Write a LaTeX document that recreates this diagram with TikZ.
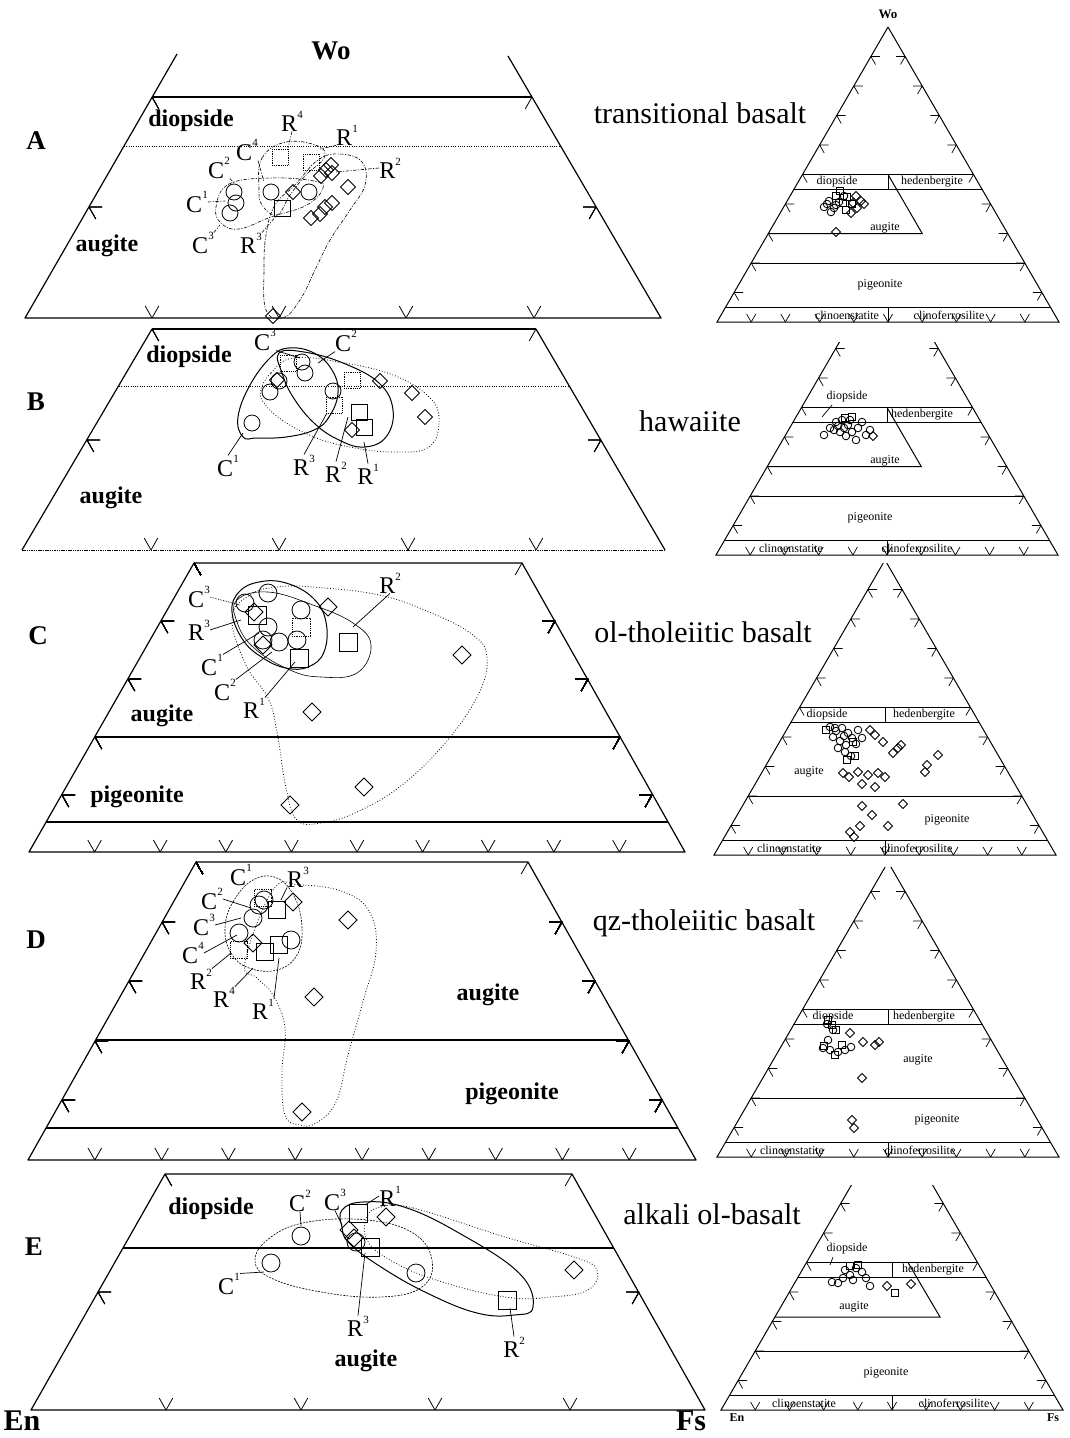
\documentclass[tikz,border=0pt]{standalone}
\usepackage{fontspec}
\setmainfont{Liberation Serif}
\usetikzlibrary{calc}

% superscript digit of a sample label
\newcommand\upn[1]{\raisebox{0.55em}{\fontsize{11}{11}\selectfont #1}}

% plotted symbols: [style]{size}{x/y list}
\newcommand\circs[3][]{\foreach \x/\y in {#3} \draw[sym,#1] (\x,\y) circle[radius=#2];}
\newcommand\sqs[3][]{\foreach \x/\y in {#3} \draw[sym,#1] (\x-#2,\y-#2) rectangle (\x+#2,\y+#2);}
\newcommand\dias[3][]{\foreach \x/\y in {#3} \draw[sym,#1] (\x,\y-#2) -- (\x+#2,\y) -- (\x,\y+#2) -- (\x-#2,\y) -- cycle;}

% grid ticks of the enlarged quadrilaterals
\newcommand\tkB[2]{\draw[tk] (#1,#2) -- ++(6.8,-12) (#1,#2) -- ++(-6.8,-12);}
\newcommand\tkL[2]{\draw[tk] (#1,#2) -- ++(13,0) (#1,#2) -- ++(6.8,12);}
\newcommand\tkR[2]{\draw[tk] (#1,#2) -- ++(-13,0) (#1,#2) -- ++(-6.8,12);}

% small Wo-En-Fs triangle: {x}{y} of En corner, {height of drawn sides}, {number of side ticks}
\newcommand\tribox[4]{%
  \begin{scope}[shift={(#1,#2)}]
    \draw[tln] ({0.5797*#3},-#3) -- (0,0) -- (342,0) -- ({342-0.5797*#3},-#3);
    \draw[tln] (85.5,-147.5) -- (256.5,-147.5);
    \draw[tln,line width=1.5pt] (77,-132.75) -- (265,-132.75);
    \draw[tln] (171,-147.5) -- (171,-132.75);
    \draw[tln] (34.2,-59) -- (307.8,-59);
    \draw[tln] (8.55,-14.75) -- (333.45,-14.75);
    \draw[tln] (171,-14.75) -- (171,0);
    \foreach \k in {1,...,9}
      \draw[ttk] ({34.2*\k},0) -- ++(4.6,-8) ({34.2*\k},0) -- ++(-4.6,-8);
    \foreach \k in {1,...,#4} {
      \draw[ttk] ({17.1*\k},{-29.5*\k}) -- ++(9,0) ({17.1*\k},{-29.5*\k}) -- ++(4.6,8);
      \draw[ttk] ({342-17.1*\k},{-29.5*\k}) -- ++(-9,0) ({342-17.1*\k},{-29.5*\k}) -- ++(-4.6,8);
    }
  \end{scope}}

\tikzset{
  ln/.style={line width=1.2pt, line join=round},
  tk/.style={line width=0.8pt},
  dotl/.style={line width=0.9pt, dash pattern=on 0.9pt off 1.4pt},
  sym/.style={line width=0.8pt},
  lead/.style={line width=0.7pt},
  ddash/.style={line width=0.6pt, dash pattern=on 3.5pt off 1.5pt on 1pt off 1.5pt},
  esol/.style={line width=1pt},
  ethin/.style={line width=0.6pt},
  edash/.style={line width=0.6pt, dash pattern=on 2pt off 1.2pt},
  edot/.style={line width=0.8pt, dash pattern=on 0.8pt off 2pt},
  lbl/.style={font=\fontsize{24}{24}\selectfont, inner sep=0pt},
  fld/.style={font=\fontsize{24}{24}\selectfont\bfseries, inner sep=0pt},
  pan/.style={font=\fontsize{27}{27}\selectfont\bfseries, inner sep=0pt},
  ttl/.style={font=\fontsize{30}{30}\selectfont, inner sep=0pt},
  trt/.style={font=\fontsize{12}{12}\selectfont, inner sep=0pt},
  tln/.style={line width=1pt},
  ttk/.style={line width=0.7pt},
  tsym/.style={line width=0.85pt},
}

\begin{document}
\begin{tikzpicture}[x=1pt,y=-1pt]
\useasboundingbox (0,0) rectangle (1070,1438);
\fill[white] (0,0) rectangle (1070,1438);

% ================= panel A : transitional basalt =================
\draw[ln] (177,54) -- (25,318) -- (661,318) -- (508,56);
\draw[ln] (152,97) -- (532,97);
\draw[dotl] (124,146) -- (561,146);
\foreach \x in {152,279,406,534} \tkB{\x}{318}
\tkL{89}{207} \tkR{596}{207}
\draw[tk] (152,97) -- ++(6.8,12);
\draw[tk] (532,97) -- ++(-6.8,12);

\node[pan] (wo) at (331,51) {Wo};
\node[pan] (pA) at (36,141) {A};
\node[fld] (aDi) at (191,121) {diopside};
\node[fld] (aAu) at (107,246) {augite};

\draw[ddash] plot[smooth cycle, tension=0.7] coordinates {(216,207) (229,184) (271,178) (314,181) (323,188) (307,205) (271,217) (239,229) (221,223)};
\draw[ddash] plot[smooth cycle, tension=0.7] coordinates {(259,188) (262,158) (286,142) (318,146) (324,158) (306,175) (290,195) (277,215) (262,205)};
\draw[ddash] plot[smooth cycle, tension=0.7] coordinates {(318,160) (340,154) (362,162) (365,185) (350,210) (330,240) (315,270) (300,300) (283,318) (266,310) (264,270) (266,235) (275,205) (295,185)};

\circs{8}{234/192, 236/203, 230/213, 271/192, 309/192}
\sqs[densely dotted]{8}{280/157, 311/162}
\sqs{8}{282/208}
\dias{7.5}{293/192, 321/176, 326/170, 331/165, 332/173, 348/187, 311/218, 320/214, 325/207, 332/203, 273/316}

\node[lbl] (aR4) at (292,121) {R\upn{4}};
\node[lbl] (aR1) at (347,135) {R\upn{1}};
\node[lbl] (aC4) at (247,150) {C\upn{4}};
\node[lbl] (aR2) at (390,168) {R\upn{2}};
\node[lbl] (aC2) at (219,168) {C\upn{2}};
\node[lbl] (aC1) at (197,202) {C\upn{1}};
\node[lbl] (aC3) at (203,243) {C\upn{3}};
\node[lbl] (aR3) at (251,243) {R\upn{3}};
\draw[ddash] (aR4.south) -- (288,148);
\draw[ddash] (aR1.south west) -- (320,149);
\draw[ddash] (aC4.south east) -- (264,182);
\draw[ddash] (aR2.west) -- (336,172);
\draw[ddash] (aC2.south east) -- (234,183);
\draw[ddash] (aC1.east) -- (225,201);
\draw[ddash] (aC3.north east) -- (220,225);
\draw[ddash] (aR3.north east) -- (277,215);

% ================= panel B : hawaiite =================
\draw[ln] (152,329) -- (22,550);
\draw[ln] (536,329) -- (665,550);
\draw[ln] (152,329) -- (536,329);
\draw[line width=1pt, dash pattern=on 1.5pt off 0.8pt] (22,550) -- (665,550);
\draw[dotl] (119,386) -- (569,386);
\foreach \x in {151,279,408,536} \tkB{\x}{550}
\tkL{87}{440} \tkR{601}{440}
\draw[tk] (152,329) -- ++(6.8,12);
\draw[tk] (536,329) -- ++(-6.8,12);

\node[pan] (pB) at (36,402) {B};
\node[fld] (bDi) at (189,357) {diopside};
\node[fld] (bAu) at (111,498) {augite};

\draw[esol] plot[smooth cycle, tension=0.7] coordinates {(243,437) (238,417) (250,385) (271,357) (289,348) (314,353) (332,370) (338,393) (329,417) (314,430) (286,437) (257,438)};
\draw[esol] plot[smooth cycle, tension=0.7] coordinates {(279,353) (304,352) (343,363) (379,383) (393,410) (386,437) (364,447) (339,440) (314,423) (293,397) (282,373)};
\draw[edot] plot[smooth cycle, tension=0.7] coordinates {(261,390) (271,373) (293,358) (339,362) (393,375) (429,397) (439,420) (429,447) (393,452) (350,447) (314,437) (282,420) (264,403)};

\circs{8}{252/423, 270/392, 279/381, 302/362, 305/373, 333/391}
\sqs[densely dotted]{8}{288/363, 352/380, 334/405}
\sqs{8}{359/412, 364/427}
\dias{7.5}{277/380, 380/381, 412/393, 425/417, 352/430}

\node[lbl] (bC3) at (265,340) {C\upn{3}};
\node[lbl] (bC2) at (346,341) {C\upn{2}};
\node[lbl] (bC1) at (228,466) {C\upn{1}};
\node[lbl] (bR3) at (304,465) {R\upn{3}};
\node[lbl] (bR2) at (336,472) {R\upn{2}};
\node[lbl] (bR1) at (368,474) {R\upn{1}};
\draw[lead] (bC3.south east) -- (300,358);
\draw[lead] (bC2.south west) -- (318,363);
\draw[lead] (bC1.north) -- (243,433);
\draw[lead] (bR3.north) -- (327,413);
\draw[lead] (bR2.north) -- (348,417);
\draw[lead] (bR1.north) -- (364,442);

% ================= panel C : ol-tholeiitic basalt =================
\draw[ln] (194,563) -- (29,852) -- (685,852) -- (522,563) -- cycle;
\draw[ln] (95,737) -- (620,737);
\draw[ln] (46,822) -- (668,822);
\foreach \k in {1,...,9} \tkB{29+65.6*\k}{852}
\foreach \x/\y in {161/621, 128/679, 95/737, 62/795} \tkL{\x}{\y}
\foreach \x/\y in {555/621, 588/679, 620/737, 652/795} \tkR{\x}{\y}
\draw[tk] (194,563) -- ++(6.8,12);
\draw[tk] (522,563) -- ++(-6.8,12);

\node[pan] (pC) at (38,636) {C};
\node[fld] (cAu) at (162,716) {augite};
\node[fld] (cPi) at (137,797) {pigeonite};

\draw[esol] plot[smooth cycle, tension=0.7] coordinates {(232,612) (239,592) (259,582) (286,583) (313,598) (326,622) (324,652) (308,667) (286,668) (263,658) (243,640)};
\draw[ethin] plot[smooth cycle, tension=0.7] coordinates {(237,600) (268,592) (313,605) (353,623) (371,645) (357,673) (321,677) (290,670) (254,648) (237,622)};
\draw[edot] plot[smooth cycle, tension=0.7] coordinates {(232,618) (246,665) (268,698) (277,732) (286,788) (297,820) (321,823) (357,812) (402,785) (446,742) (478,695) (487,658) (473,635) (429,612) (379,595) (313,587) (277,587) (250,595)};

\circs{9}{268/593, 245/603, 301/610, 268/627, 263/640, 279/642, 297/640}
\sqs{9}{257/615, 348/642, 299/658}
\sqs[densely dotted]{9}{301/627}
\dias{9}{328/607, 254/612, 263/645, 462/655, 312/712, 364/787, 290/805}

\node[lbl] (cC3) at (199,597) {C\upn{3}};
\node[lbl] (cR3) at (199,630) {R\upn{3}};
\node[lbl] (cC1) at (212,665) {C\upn{1}};
\node[lbl] (cC2) at (225,690) {C\upn{2}};
\node[lbl] (cR1) at (254,708) {R\upn{1}};
\node[lbl] (cR2) at (390,583) {R\upn{2}};
\draw[lead,densely dotted] (cC3.east) -- (240,605);
\draw[lead] (cR3.east) -- (241,620);
\draw[lead] (cC1.north east) -- (259,633);
\draw[lead] (cC2.north east) -- (272,652);
\draw[lead] (cR1.north east) -- (295,662);
\draw[lead] (cR2.south) -- (353,627);

% ================= panel D : qz-tholeiitic basalt =================
\draw[ln] (196,862) -- (28,1160) -- (696,1160) -- (528,862) -- cycle;
\draw[ln] (96,1040) -- (628,1040);
\draw[ln] (46,1128) -- (678,1128);
\foreach \k in {1,...,9} \tkB{28+66.8*\k}{1160}
\foreach \x/\y in {162/922, 129/981, 95/1041, 62/1100} \tkL{\x}{\y}
\foreach \x/\y in {562/922, 595/981, 629/1041, 662/1100} \tkR{\x}{\y}
\draw[tk] (196,862) -- ++(6.8,12);
\draw[tk] (528,862) -- ++(-6.8,12);

\node[pan] (pD) at (36,940) {D};
\node[fld] (dAu) at (488,995) {augite};
\node[fld] (dPi) at (512,1094) {pigeonite};

\draw[edash] plot[smooth cycle, tension=0.7] coordinates {(225,928) (233,902) (253,880) (277,878) (295,898) (302,928) (297,955) (277,970) (249,968) (231,953)};
\draw[edot] plot[smooth cycle, tension=0.7] coordinates {(273,890) (300,885) (344,892) (370,913) (376,952) (364,998) (348,1055) (336,1102) (316,1123) (300,1125) (285,1115) (282,1072) (285,1028) (273,995) (257,978) (245,962)};

\circs{9}{259/905, 264/900, 253/918, 239/933, 291/940}
\sqs[densely dotted]{8.5}{263/898, 239/950}
\sqs{8.5}{277/910, 265/952, 279/945}
\dias{9}{293/902, 348/920, 253/943, 314/997, 302/1112}

\node[lbl] (dC1) at (241,875) {C\upn{1}};
\node[lbl] (dC2) at (212,899) {C\upn{2}};
\node[lbl] (dC3) at (204,925) {C\upn{3}};
\node[lbl] (dC4) at (193,953) {C\upn{4}};
\node[lbl] (dR2) at (201,979) {R\upn{2}};
\node[lbl] (dR4) at (224,997) {R\upn{4}};
\node[lbl] (dR1) at (263,1009) {R\upn{1}};
\node[lbl] (dR3) at (298,877) {R\upn{3}};
\draw[lead] (dC2.east) -- (251,908);
\draw[lead] (dC3.east) -- (241,918);
\draw[lead] (dC4.east) -- (237,935);
\draw[lead] (dR2.north east) -- (231,953);
\draw[lead] (dR4.north east) -- (253,968);
\draw[lead] (dR1.north east) -- (279,958);
\draw[lead] (dR3.south west) -- (281,900);

% ================= panel E : alkali ol-basalt =================
\draw[ln] (165,1174) -- (31,1410) -- (705,1410) -- (572,1174) -- cycle;
\draw[ln] (123,1248) -- (614,1248);
\foreach \x in {166,301,435,570} \tkB{\x}{1410}
\tkL{98}{1292} \tkR{639}{1292}
\draw[tk] (165,1174) -- ++(6.8,12);
\draw[tk] (572,1174) -- ++(-6.8,12);

\node[pan] (pE) at (34,1247) {E};
\node[fld] (eDi) at (211,1209) {diopside};
\node[fld] (eAu) at (366,1361) {augite};

\draw[edash] plot[smooth cycle, tension=0.7] coordinates {(255,1260) (271,1237) (308,1222) (367,1220) (413,1233) (432,1260) (422,1287) (381,1297) (321,1292) (271,1278)};
\draw[esol] plot[smooth cycle, tension=0.7] coordinates {(342,1210) (363,1202) (404,1207) (459,1233) (519,1273) (533,1307) (514,1315) (477,1313) (427,1293) (381,1267) (349,1243) (342,1227)};
\draw[edot] plot[smooth cycle, tension=0.7] coordinates {(381,1207) (413,1208) (505,1237) (574,1257) (597,1270) (588,1290) (551,1297) (505,1297) (436,1280) (390,1260) (367,1240) (367,1217)};

\circs{9}{301/1236, 271/1263, 416/1273, 356/1242}
\sqs{9}{358/1213, 370/1247, 507/1300}
\dias{9}{386/1217, 349/1230, 354/1238, 574/1270}

\node[lbl] (eC2) at (300,1201) {C\upn{2}};
\node[lbl] (eC3) at (335,1200) {C\upn{3}};
\node[lbl] (eR1) at (390,1196) {R\upn{1}};
\node[lbl] (eC1) at (229,1284) {C\upn{1}};
\node[lbl] (eR3) at (358,1326) {R\upn{3}};
\node[lbl] (eR2) at (514,1347) {R\upn{2}};
\draw[lead] (eC2.south) -- (301,1226);
\draw[lead] (eC3.south) -- (342,1225);
\draw[lead] (eR1.west) -- (365,1205);
\draw[lead] (eC1.north east) -- (264,1272);
\draw[lead] (eR3.north) -- (365,1253);
\draw[lead] (eR2.north) -- (510,1308);

\node[font=\fontsize{30}{30}\selectfont\bfseries, inner sep=0pt] (en) at (22,1421) {En};
\node[font=\fontsize{30}{30}\selectfont\bfseries, inner sep=0pt] (fs) at (691,1421) {Fs};

% ================= rock-type titles =================
\node[ttl] (tA) at (700,113) {transitional basalt};
\node[ttl] (tB) at (690,421) {hawaiite};
\node[ttl] (tC) at (703,632) {ol-tholeiitic basalt};
\node[ttl] (tD) at (704,923) {qz-tholeiitic basalt};
\node[ttl] (tE) at (712,1214) {alkali ol-basalt};

% ================= small triangles =================
% A
\tribox{717}{322}{295}{9}
\begin{scope}[shift={(717,322)}]
  \draw[tln] (171,-147.5) -- (205.2,-88.5) -- (51.3,-88.5);
  \node[trt,font=\fontsize{13}{13}\selectfont\bfseries] (twA) at (171,-308) {Wo};
  \node[trt] (tdA) at (120,-140) {diopside};
  \node[trt] (thA) at (215,-140) {hedenbergite};
  \node[trt] (taA) at (168,-94) {augite};
  \node[trt] (tpA) at (163,-37) {pigeonite};
  \node[trt] (tceA) at (130,-7) {clinoenstatite};
  \node[trt] (tcfA) at (232,-7) {clinoferrosilite};
\end{scope}
\circs[tsym]{3.8}{824/207, 829/201, 834/208, 839/202, 844/196, 831/212, 827/204, 836/205}
\sqs[tsym]{3.5}{840/191, 847/197, 852/204, 846/210, 836/196, 843/203}
\dias[tsym]{4.5}{856/196, 861/201, 857/208, 851/213, 864/204, 853/203, 836/232}

% B
\tribox{716}{555}{213}{7}
\begin{scope}[shift={(716,555)}]
  \draw[tln] (171,-147.5) -- (205.2,-88.5) -- (51.3,-88.5);
  \node[trt] (tdB) at (131,-158) {diopside};
  \draw[ttk] (116,-150) -- (106,-138);
  \node[trt] (thB) at (206,-140) {hedenbergite};
  \node[trt] (taB) at (169,-94) {augite};
  \node[trt] (tpB) at (154,-37) {pigeonite};
  \node[trt] (tceB) at (75,-7) {clinoenstatite};
  \node[trt] (tcfB) at (201,-7) {clinoferrosilite};
\end{scope}
\circs[tsym]{3.8}{824/435, 830/428, 836/422, 842/420, 848/425, 852/432, 858/428, 862/422, 866/435, 870/430, 856/440, 840/432, 834/430, 846/436, 844/428, 850/420, 838/426}
\sqs[tsym]{3.5}{845/418, 852/417}
\dias[tsym]{4.5}{873/436}

% C
\tribox{714}{855}{292}{9}
\begin{scope}[shift={(714,855)}]
  \node[trt] (tdC) at (113,-140) {diopside};
  \node[trt] (thC) at (210,-140) {hedenbergite};
  \node[trt] (taC) at (95,-83) {augite};
  \node[trt] (tpC) at (233,-35) {pigeonite};
  \node[trt] (tceC) at (75,-7) {clinoenstatite};
  \node[trt] (tcfC) at (203,-7) {clinoferrosilite};
\end{scope}
\circs[tsym]{3.8}{830/727, 836/731, 842/728, 848/733, 833/737, 840/741, 846/745, 852/738, 838/748, 845/752, 851/756, 856/744, 858/730, 862/738, 835/728, 844/736}
\sqs[tsym]{3.5}{853/742, 855/756, 847/760, 826/730}
\dias[tsym]{4.5}{870/730, 875/735, 883/742, 898/748, 901/745, 893/753, 938/755, 927/765, 925/772, 843/773, 849/777, 858/772, 868/775, 878/773, 885/777, 862/784, 875/787, 862/806, 903/804, 872/815, 888/826, 860/826, 850/832, 854/837}

% D
\tribox{717}{1157}{290}{9}
\begin{scope}[shift={(717,1157)}]
  \node[trt] (tdD) at (116,-140) {diopside};
  \node[trt] (thD) at (207,-140) {hedenbergite};
  \node[trt] (taD) at (201,-97) {augite};
  \node[trt] (tpD) at (220,-37) {pigeonite};
  \node[trt] (tceD) at (75,-7) {clinoenstatite};
  \node[trt] (tcfD) at (203,-7) {clinoferrosilite};
\end{scope}
\circs[tsym]{3.8}{823/1048, 830/1050, 838/1052, 845/1050, 851/1047, 828/1040, 833/1030, 827/1024}
\sqs[tsym]{3.5}{828/1020, 832/1025, 836/1030, 824/1046, 835/1055, 842/1045}
\dias[tsym]{4.5}{850/1033, 863/1042, 875/1045, 879/1042, 862/1078, 852/1120, 854/1128}

% E
\tribox{721}{1410}{225}{7}
\begin{scope}[shift={(721,1410)}]
  \draw[tln] (187,-147.5) -- (219,-93) -- (54,-93);
  \node[trt] (tdE) at (126,-161) {diopside};
  \draw[ttk] (112,-153) -- (109,-145);
  \node[trt] (thE) at (212,-140) {hedenbergite};
  \node[trt] (taE) at (133,-103) {augite};
  \node[trt] (tpE) at (165,-37) {pigeonite};
  \node[trt] (tceE) at (83,-7) {clinoenstatite};
  \node[trt] (tcfE) at (233,-7) {clinoferrosilite};
  \node[trt,font=\fontsize{12}{12}\selectfont\bfseries] (tenE) at (16,8) {En};
  \node[trt,font=\fontsize{12}{12}\selectfont\bfseries] (tfsE) at (332,8) {Fs};
\end{scope}
\circs[tsym]{3.8}{832/1282, 838/1283, 870/1286, 845/1270, 850/1275, 856/1268, 862/1272, 866/1278, 843/1278, 853/1280}
\sqs[tsym]{3.5}{850/1266, 858/1265, 895/1293}
\dias[tsym]{4.5}{887/1286, 911/1284}

\end{tikzpicture}
\end{document}
